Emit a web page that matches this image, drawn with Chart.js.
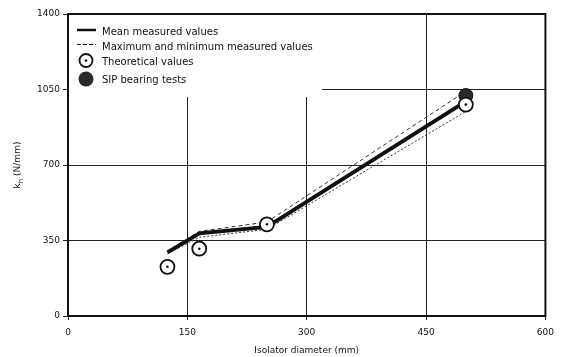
<!DOCTYPE html>
<html>
<head>
<meta charset="utf-8">
<script src="https://cdn.jsdelivr.net/npm/chart.js@4.4.1/dist/chart.umd.min.js"></script>
<style>
  html, body { margin: 0; padding: 0; background: #fff; }
  #wrap { width: 561px; height: 357px; }
</style>
</head>
<body>
<div id="wrap"><canvas id="kChart"></canvas></div>
<script>
// isolator diameter (mm) vs horizontal stiffness kh (N/mm)
const diameters = [125, 165, 250, 500];
const meanValues = [295, 383, 413, 995];
const maxValues = [300, 392, 436, 1042];
const minValues = [288, 365, 402, 948];
const theoretical = [228, 312, 425, 980];
const sipDiameter = [500];
const sipValues = [1022];
const xTicks = [0, 150, 300, 450, 600];
const yTicks = [0, 350, 700, 1050, 1400];

const FONT = "'DejaVu Sans', sans-serif";

function pts(xs, ys) {
    return xs.map((x, i) => ({ x: x, y: ys[i] }));
}

// white box for the legend + the legend itself, drawn inside the plot
const legendBox = {
    id: "legendBox",
    beforeDatasetsDraw(chart) {
        const ctx = chart.ctx;
        const a = chart.chartArea;
        ctx.save();
        ctx.fillStyle = "#fff";
        ctx.fillRect(a.left + 1, a.top + 1, 253, 82);
        ctx.strokeStyle = "#111";
        ctx.fillStyle = "#111";
        ctx.font = "10px " + FONT;
        ctx.textBaseline = "middle";
        const x0 = 77, tx = 102;
        // mean
        ctx.lineWidth = 2.5;
        ctx.beginPath(); ctx.moveTo(x0, 30); ctx.lineTo(x0 + 19, 30); ctx.stroke();
        ctx.fillText("Mean measured values", tx, 32);
        // max / min
        ctx.lineWidth = 1;
        ctx.setLineDash([4, 2]);
        ctx.beginPath(); ctx.moveTo(x0, 44.5); ctx.lineTo(x0 + 19, 44.5); ctx.stroke();
        ctx.setLineDash([]);
        ctx.fillText("Maximum and minimum measured values", tx, 47);
        // theoretical
        ctx.lineWidth = 1.8;
        ctx.beginPath(); ctx.arc(86, 60.5, 6.5, 0, Math.PI * 2); ctx.stroke();
        ctx.beginPath(); ctx.arc(86, 60.5, 1.3, 0, Math.PI * 2); ctx.fill();
        ctx.fillText("Theoretical values", tx, 62.5);
        // SIP
        ctx.fillStyle = "#2a2a2a";
        ctx.beginPath(); ctx.arc(86, 79, 7.5, 0, Math.PI * 2); ctx.fill();
        ctx.fillStyle = "#111";
        ctx.fillText("SIP bearing tests", tx, 80);
        ctx.restore();
    },
    afterDraw(chart) {
        // y title with subscript
        const ctx = chart.ctx;
        const a = chart.chartArea;
        ctx.save();
        ctx.translate(18, (a.top + a.bottom) / 2);
        ctx.rotate(-Math.PI / 2);
        ctx.fillStyle = "#111";
        ctx.textBaseline = "middle";
        ctx.font = "9px " + FONT;
        const w1 = ctx.measureText("k").width;
        ctx.font = "7px " + FONT;
        const w2 = ctx.measureText("h").width;
        ctx.font = "9px " + FONT;
        const w3 = ctx.measureText(" (N/mm)").width;
        const x = -(w1 + w2 + w3) / 2;
        ctx.fillText("k", x, 0);
        ctx.font = "7px " + FONT;
        ctx.fillText("h", x + w1, 3);
        ctx.font = "9px " + FONT;
        ctx.fillText(" (N/mm)", x + w1 + w2, 0);
        ctx.restore();
        // frame
        ctx.save();
        ctx.strokeStyle = "#111";
        ctx.lineWidth = 2;
        ctx.strokeRect(a.left, a.top, a.right - a.left, a.bottom - a.top);
        ctx.restore();
    }
};

new Chart(document.getElementById("kChart"), {
    type: "scatter",
    data: {
        datasets: [
            {
                label: "Theoretical dot",
                data: pts(diameters, theoretical),
                pointRadius: 1.3,
                pointBackgroundColor: "#111",
                pointBorderWidth: 0,
                showLine: false,
                order: 0
            },
            {
                label: "Theoretical values",
                data: pts(diameters, theoretical),
                pointRadius: 7,
                pointBackgroundColor: "#fff",
                pointBorderColor: "#111",
                pointBorderWidth: 1.8,
                showLine: false,
                order: 1
            },
            {
                label: "SIP bearing tests",
                data: pts(sipDiameter, sipValues),
                pointRadius: 7,
                pointBackgroundColor: "#2a2a2a",
                pointBorderColor: "#111",
                pointBorderWidth: 1,
                showLine: false,
                order: 2
            },
            {
                label: "Mean measured values",
                data: pts(diameters, meanValues),
                showLine: true,
                borderColor: "#111",
                borderWidth: 4,
                pointRadius: 0,
                order: 3
            },
            {
                label: "Maximum measured values",
                data: pts(diameters, maxValues),
                showLine: true,
                borderColor: "#333",
                borderWidth: 1,
                borderDash: [4, 3],
                pointRadius: 0,
                order: 4
            },
            {
                label: "Minimum measured values",
                data: pts(diameters, minValues),
                showLine: true,
                borderColor: "#333",
                borderWidth: 1,
                borderDash: [2, 2],
                pointRadius: 0,
                order: 5
            }
        ]
    },
    options: {
        responsive: true,
        maintainAspectRatio: false,
        animation: false,
        layout: { padding: { top: 14, right: 12, left: 0, bottom: 0 } },
        plugins: {
            legend: { display: false },
            tooltip: { enabled: false }
        },
        scales: {
            x: {
                type: "linear",
                min: 0,
                max: 600,
                afterBuildTicks: s => { s.ticks = xTicks.map(v => ({ value: v })); },
                afterFit: s => { s.height = 41; },
                grid: { color: "#222", lineWidth: 1, tickLength: 4 },
                border: { display: false },
                ticks: {
                    color: "#111",
                    font: { family: FONT, size: 9 },
                    padding: 7,
                    maxRotation: 0,
                    callback: v => String(v)
                },
                title: {
                    display: true,
                    text: "Isolator diameter (mm)",
                    color: "#111",
                    font: { family: FONT, size: 9 },
                    padding: { top: 0, bottom: 1 }
                }
            },
            y: {
                type: "linear",
                min: 0,
                max: 1400,
                afterBuildTicks: s => { s.ticks = yTicks.map(v => ({ value: v })); },
                afterFit: s => { s.width = 68; },
                grid: { color: "#222", lineWidth: 1, tickLength: 5 },
                border: { display: false },
                ticks: {
                    color: "#111",
                    font: { family: FONT, size: 9 },
                    padding: 3,
                    callback: v => String(v)
                }
            }
        }
    },
    plugins: [legendBox]
});
</script>
</body>
</html>
